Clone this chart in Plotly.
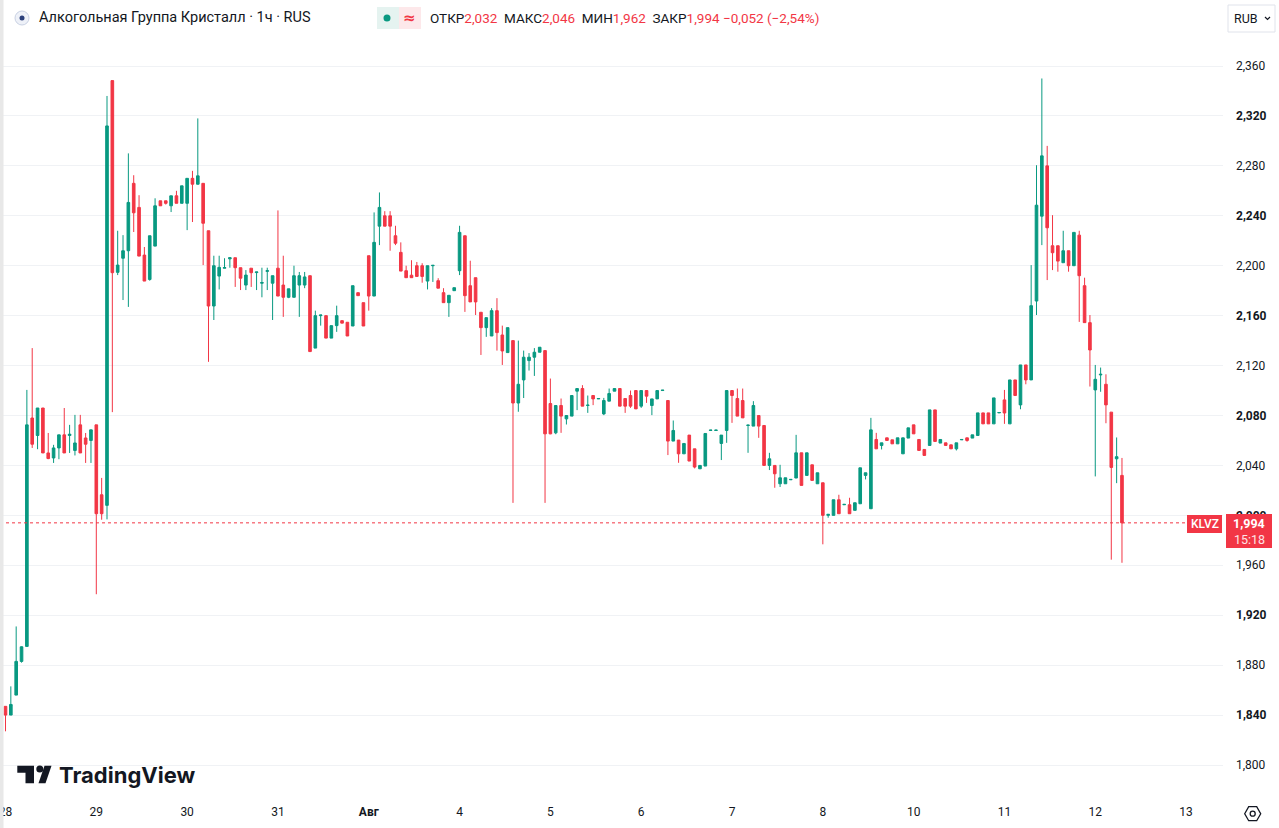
import plotly.graph_objects as go

# ---------------- data (hourly candles, KLVZ) ----------------
opens = [1847, 1840, 1856, 1883, 1895, 2078, 2064, 2086, 2050, 2046,
         2054, 2064.5, 2064, 2052, 2072.5, 2062, 2060, 2072.5, 2016.5, 2008,
         2348.3, 2194.7, 2206, 2212, 2266, 2246.7, 2208.5, 2189, 2215.7, 2252,
         2252, 2248, 2256, 2250, 2250, 2270, 2265.3, 2266, 2228, 2167.7,
         2191.7, 2198, 2205.5, 2206.4, 2198.4, 2184.5, 2198, 2194.5, 2186, 2195.5,
         2186, 2198, 2184.5, 2174.7, 2174.7, 2184.5, 2184.5, 2192, 2134, 2160,
         2160, 2142, 2152, 2156, 2154.7, 2151.7, 2178.4, 2170.4, 2208, 2175.7,
         2231.7, 2240, 2240, 2224, 2210.7, 2196, 2192.4, 2200, 2200, 2187.7,
         2200, 2188, 2178.4, 2170.4, 2180, 2196, 2224, 2184, 2190.4, 2162.7,
         2150.4, 2143.7, 2164, 2144.5, 2130.4, 2140, 2090, 2108.5, 2124, 2126.7,
         2130.7, 2132, 2089.6, 2066.1, 2088, 2077.3, 2079.5, 2099.5, 2101.6, 2088,
         2096, 2093.3, 2081.3, 2091.5, 2099.5, 2101.6, 2093.6, 2096, 2100, 2087.5,
         2100, 2088, 2093.3, 2100, 2092, 2059.5, 2060.3, 2049.3, 2064.3, 2053.3,
         2037.3, 2039.5, 2068, 2068, 2057.6, 2068, 2100, 2093.6, 2092, 2072,
         2071.5, 2080, 2072, 2040, 2040, 2025.3, 2025.3, 2028.5, 2029.9, 2050.1,
         2032, 2040.5, 2025.3, 2026.1, 2000, 2000, 2012.5, 2008.5, 2008.5, 2004,
         2009.3, 2032, 2005.3, 2060.8, 2056, 2062.1, 2060.5, 2057.3, 2049.3, 2061.9,
         2072.5, 2060.8, 2052.8, 2056, 2084.5, 2057.9, 2058.1, 2056.5, 2053.3, 2060.5,
         2062.1, 2061.9, 2064, 2082.1, 2082.1, 2073.3, 2082.1, 2092.5, 2073.3, 2108.5,
         2088.5, 2120.5, 2108.5, 2171.7, 2239.7, 2280, 2216, 2216, 2202.4, 2212,
         2200, 2224.5, 2184, 2154.4, 2100.5, 2112.5, 2105, 2082.7, 2045.3, 2032]

highs = [1847, 1863, 1911, 1895, 2100.5, 2134, 2086, 2086, 2066, 2056.5,
         2064.5, 2086, 2072.5, 2080.5, 2080.5, 2066, 2068.5, 2072.5, 2030, 2336,
         2348.3, 2228, 2224.5, 2290, 2272.5, 2256.5, 2215, 2224, 2254, 2252,
         2252, 2256, 2260, 2264, 2270, 2276, 2318, 2266, 2228, 2208,
         2208, 2206, 2206.4, 2206.4, 2198.4, 2196.5, 2198, 2195, 2198.4, 2198.4,
         2192, 2244.3, 2208, 2181.5, 2200, 2195, 2195, 2192, 2164, 2160.5,
         2160, 2152, 2168, 2156, 2154.7, 2184, 2178.4, 2170.4, 2208, 2242.7,
         2258.7, 2243.7, 2243.7, 2232, 2218.7, 2200, 2204.4, 2203, 2202, 2200,
         2200.3, 2190, 2182, 2176.3, 2182.4, 2232, 2224, 2204, 2190.4, 2162.7,
         2158.4, 2166, 2174, 2152, 2150.4, 2140, 2140, 2132, 2130, 2134,
         2134.7, 2132, 2109.6, 2088, 2093.6, 2080, 2096, 2101.6, 2104.3, 2096,
         2096, 2093.6, 2094.1, 2101.6, 2101.6, 2101.6, 2093.6, 2100, 2100, 2100,
         2100, 2093.3, 2100, 2100.3, 2092, 2076, 2060.3, 2057.6, 2064.3, 2053.3,
         2040, 2065.6, 2068.3, 2068.3, 2064.3, 2100, 2100, 2101.6, 2101.6, 2072.5,
         2091.5, 2080, 2072, 2050.1, 2040, 2040.5, 2030.1, 2028.8, 2064.5, 2050.1,
         2050.1, 2040.5, 2034.1, 2026.1, 2000.8, 2012.5, 2016.5, 2008.8, 2014.1, 2010.1,
         2038.1, 2034.1, 2078.1, 2066.1, 2058.1, 2062.1, 2060.5, 2062.1, 2062.1, 2070.1,
         2072.5, 2060.8, 2052.8, 2084.5, 2084.5, 2060.8, 2058.1, 2056.5, 2058.1, 2060.8,
         2062.1, 2064.5, 2082.1, 2082.1, 2082.1, 2094.1, 2082.4, 2100.5, 2108.5, 2108.5,
         2120.5, 2120.5, 2200.5, 2280.5, 2350, 2296, 2240.5, 2216, 2228, 2212,
         2226.7, 2228, 2190.4, 2160.5, 2120.5, 2118.4, 2113, 2082.7, 2062.4, 2046]

lows = [1827, 1840, 1856, 1882, 1895, 2054, 2053, 2050, 2045, 2042,
        2045, 2050, 2050, 2048, 2050, 2042, 2042, 1936.8, 1996.5, 1996.8,
        2082.7, 2192.5, 2172.5, 2167, 2227, 2207.7, 2187.7, 2188, 2215.7, 2248,
        2249, 2243, 2250, 2250, 2228.5, 2235, 2265, 2200.5, 2123, 2156.5,
        2181, 2198, 2198.4, 2183, 2180.5, 2180.5, 2183, 2180.5, 2174.7, 2180.5,
        2156.5, 2175.7, 2159, 2174, 2174.7, 2159, 2182, 2131.2, 2134, 2152,
        2142, 2142, 2147, 2154, 2143.7, 2151.7, 2176, 2151.7, 2164, 2175.7,
        2216.5, 2231.7, 2212, 2216.5, 2195.7, 2190.4, 2190.4, 2191.4, 2186.4, 2181,
        2187, 2182, 2170.4, 2159, 2180, 2192.5, 2163, 2171, 2160.5, 2128.5,
        2143, 2143.7, 2132, 2120.5, 2130.4, 2010, 2083, 2094, 2116, 2111.7,
        2130.7, 2010, 2065, 2065, 2066.1, 2072.8, 2079.5, 2084.3, 2087.5, 2082.1,
        2088.3, 2093.3, 2080.3, 2091.5, 2099.5, 2087.5, 2082.1, 2086.1, 2085.3, 2086.1,
        2090.1, 2080.3, 2093.3, 2100, 2048.3, 2059.5, 2042.1, 2049.3, 2043.5, 2037.6,
        2037.3, 2039.5, 2068, 2068, 2044.3, 2058.1, 2074.1, 2079.5, 2078.1, 2050.1,
        2071.5, 2062.1, 2040, 2036.3, 2022.1, 2022.7, 2025.3, 2028.5, 2029.9, 2024,
        2032, 2028, 2025.3, 1976.8, 1998.1, 2000, 2001.3, 2008.5, 2001.3, 2004,
        2009.3, 2028.8, 2005.3, 2053.3, 2052.8, 2060, 2057.3, 2057.3, 2049.3, 2061.9,
        2065.3, 2052, 2048, 2056, 2059.2, 2057.9, 2056, 2053.3, 2052, 2060.5,
        2059, 2061.9, 2064, 2073.3, 2073.3, 2073.3, 2082.1, 2073.3, 2073.3, 2096,
        2085, 2105, 2108.5, 2160.5, 2216.5, 2188.5, 2196.5, 2195.2, 2202.4, 2195.2,
        2200, 2155, 2154.4, 2103.2, 2031.2, 2099, 2073.8, 1964.5, 2025.8, 1962]

closes = [1840, 1848.5, 1883, 1894.7, 2072.5, 2057, 2086, 2050, 2045.5, 2054,
          2064.5, 2050, 2065, 2058, 2050, 2057, 2068.5, 2001.3, 2001.3, 2312,
          2194.4, 2200.5, 2212, 2250.7, 2242.4, 2207.7, 2187.7, 2224, 2248, 2248,
          2250, 2256, 2250, 2264, 2270, 2265.3, 2272, 2234, 2167.7, 2200,
          2198.7, 2198.5, 2206.4, 2198.4, 2190, 2192.5, 2194.4, 2195, 2186.5, 2196,
          2192, 2175.7, 2174.7, 2181.5, 2192, 2192, 2191, 2131.2, 2160, 2160.5,
          2142, 2152, 2160, 2154, 2143.7, 2184, 2176, 2151.7, 2175.7, 2218.7,
          2246.7, 2231.7, 2231.7, 2218, 2195.7, 2190.4, 2190.4, 2191.4, 2191.4, 2200,
          2200.3, 2182, 2170.4, 2176.3, 2182.4, 2226.7, 2176, 2171, 2171, 2150.4,
          2158.4, 2164, 2146.4, 2131.7, 2150.4, 2090, 2105, 2126.7, 2126.7, 2130.7,
          2134.7, 2065.3, 2065.3, 2088, 2079.5, 2080, 2096, 2101.6, 2087.5, 2088.3,
          2093.3, 2093.6, 2092, 2097.6, 2101.6, 2087.5, 2087.5, 2087.5, 2085.3, 2100,
          2095.5, 2093.3, 2100, 2100.3, 2059.5, 2068, 2049.3, 2057.6, 2043.5, 2038.7,
          2040, 2065.6, 2068.3, 2068.3, 2064.3, 2100, 2096, 2079.5, 2078.1, 2072.3,
          2088, 2071.5, 2040, 2045.3, 2033.3, 2030.1, 2030.1, 2028.8, 2050.1, 2024,
          2050.1, 2028, 2034.1, 2000, 2000.8, 2012.5, 2001.3, 2008.8, 2001.3, 2010.1,
          2038.1, 2034.1, 2068.5, 2053.3, 2058.1, 2060, 2057.3, 2062.1, 2062.1, 2070.1,
          2065.3, 2052, 2048, 2084.5, 2059.2, 2060.8, 2056, 2053.3, 2058.1, 2060.8,
          2060, 2064.5, 2082.1, 2073.3, 2073.3, 2094.1, 2082.4, 2082, 2108.5, 2096,
          2120.5, 2108.5, 2168, 2248.5, 2288, 2230.4, 2210.4, 2203.7, 2212, 2200,
          2226.7, 2192, 2154.4, 2132.5, 2109, 2113, 2088.5, 2038.4, 2047, 1994]

day_start_idx = [0, 17, 34, 51, 68, 85, 102, 119, 136, 153, 170, 187, 204, 221]
day_labels = ["28", "29", "30", "31", "<b>Авг</b>", "4", "5", "6", "7", "8", "10", "11", "12", "13"]

price_ticks = [1800, 1840, 1880, 1920, 1960, 2000, 2040, 2080, 2120, 2160, 2200, 2240, 2280, 2320, 2360]
price_labels = ["1,800", "<b>1,840</b>", "1,880", "<b>1,920</b>", "1,960", "<b>2,000</b>", "2,040",
                "<b>2,080</b>", "2,120", "<b>2,160</b>", "2,200", "<b>2,240</b>", "2,280", "<b>2,320</b>", "2,360"]

last_price = 1994
ticker = "KLVZ"
title = "Алкогольная Группа Кристалл · 1ч · RUS"
ohlc_text = ("ОТКР<span style='color:#F23645'>2,032</span>  МАКС<span style='color:#F23645'>2,046</span>  "
             "МИН<span style='color:#F23645'>1,962</span>  ЗАКР<span style='color:#F23645'>1,994</span> "
             "<span style='color:#F23645'>−0,052 (−2,54%)</span>")

GREEN = "#089981"
RED = "#F23645"
TXT = "#131722"

# ---------------- layout geometry (pixels) ----------------
W, H = 1279, 828
PR, PB = 1223, 797  # plot area right / bottom


def px(x):
    return x / PR


def py(y):
    return (PB - y) / PB


fig = go.Figure()
fig.add_trace(go.Candlestick(
    x=list(range(len(opens))), open=opens, high=highs, low=lows, close=closes,
    increasing=dict(line=dict(color=GREEN, width=1), fillcolor=GREEN),
    decreasing=dict(line=dict(color=RED, width=1), fillcolor=RED),
    whiskerwidth=0, hoverinfo="skip", showlegend=False,
))

shapes = []
annotations = []

# last price dotted line
shapes.append(dict(type="line", xref="paper", yref="y", x0=0, x1=1, y0=last_price, y1=last_price,
                   line=dict(color=RED, width=1, dash="dot"), layer="above"))
# left grey strip
shapes.append(dict(type="rect", xref="paper", yref="paper", x0=px(0), x1=px(3.5), y0=py(H), y1=py(0),
                   fillcolor="#e8e8e8", line=dict(width=0), layer="above"))
# KLVZ label
shapes.append(dict(type="rect", xref="paper", yref="paper", x0=px(1187), x1=px(1222), y0=py(533), y1=py(515),
                   fillcolor=RED, line=dict(width=0), layer="above"))
annotations.append(dict(text=ticker, xref="paper", yref="paper", x=px(1204.5), y=py(524), showarrow=False,
                        font=dict(color="white", size=12, family="Roboto", weight=500),
                        xanchor="center", yanchor="middle"))
# price box on scale
shapes.append(dict(type="rect", xref="paper", yref="paper", x0=px(1226), x1=px(1272), y0=py(548), y1=py(514),
                   fillcolor=RED, line=dict(width=0), layer="above"))
annotations.append(dict(text="<b>1,994</b>", xref="paper", yref="paper", x=px(1249), y=py(523), showarrow=False,
                        font=dict(color="white", size=12.5, family="Roboto"), xanchor="center", yanchor="middle"))
annotations.append(dict(text="15:18", xref="paper", yref="paper", x=px(1249), y=py(539), showarrow=False,
                        font=dict(color="#fde3e5", size=12.5, family="Roboto"), xanchor="center", yanchor="middle"))

# header
shapes.append(dict(type="circle", xref="paper", yref="paper", x0=px(15), x1=px(29), y0=py(25), y1=py(11),
                   fillcolor="#eef1f8", line=dict(color="#c9d1e3", width=1), layer="above"))
shapes.append(dict(type="circle", xref="paper", yref="paper", x0=px(19.5), x1=px(24.5), y0=py(20.5), y1=py(15.5),
                   fillcolor="#2a3f7a", line=dict(width=0), layer="above"))
annotations.append(dict(text=title, xref="paper", yref="paper", x=px(37), y=py(18), showarrow=False,
                        font=dict(color=TXT, size=14.5, family="Roboto"), xanchor="left", yanchor="middle"))
shapes.append(dict(type="rect", xref="paper", yref="paper", x0=px(377), x1=px(399), y0=py(29), y1=py(7),
                   fillcolor="#e5f3f0", line=dict(width=0), layer="above"))
shapes.append(dict(type="rect", xref="paper", yref="paper", x0=px(399), x1=px(421), y0=py(29), y1=py(7),
                   fillcolor="#fde8ea", line=dict(width=0), layer="above"))
shapes.append(dict(type="circle", xref="paper", yref="paper", x0=px(383.5), x1=px(390.5), y0=py(21.5), y1=py(14.5),
                   fillcolor=GREEN, line=dict(width=0), layer="above"))
annotations.append(dict(text="<b>≈</b>", xref="paper", yref="paper", x=px(409.5), y=py(18), showarrow=False,
                        font=dict(color=RED, size=15, family="DejaVu Sans"), xanchor="center", yanchor="middle"))
annotations.append(dict(text=ohlc_text, xref="paper", yref="paper", x=px(428), y=py(18), showarrow=False,
                        font=dict(color=TXT, size=13.5, family="Roboto"), xanchor="left", yanchor="middle"))
# RUB box
shapes.append(dict(type="rect", xref="paper", yref="paper", x0=px(1228), x1=px(1275), y0=py(32), y1=py(5),
                   fillcolor="white", line=dict(color="#e0e3eb", width=1), layer="above"))
annotations.append(dict(text="RUB", xref="paper", yref="paper", x=px(1232), y=py(18.5), showarrow=False,
                        font=dict(color=TXT, size=12.5, family="Roboto"), xanchor="left", yanchor="middle"))
shapes.append(dict(type="path", xref="paper", yref="paper",
                   path=f"M {px(1265)} {py(17)} L {px(1267.5)} {py(19.5)} L {px(1270)} {py(17)}",
                   line=dict(color=TXT, width=1.2), layer="above"))

# TradingView logo
shapes.append(dict(type="path", xref="paper", yref="paper",
                   path=(f"M {px(17.3)} {py(765.7)} L {px(34)} {py(765.7)} L {px(34)} {py(783.3)} "
                         f"L {px(25.5)} {py(783.3)} L {px(25.5)} {py(772.7)} L {px(17.3)} {py(772.7)} Z"),
                   fillcolor=TXT, line=dict(width=0), layer="above"))
shapes.append(dict(type="circle", xref="paper", yref="paper", x0=px(36.3), x1=px(43.3), y0=py(772.5), y1=py(765.5),
                   fillcolor=TXT, line=dict(width=0), layer="above"))
shapes.append(dict(type="path", xref="paper", yref="paper",
                   path=(f"M {px(38.5)} {py(783.3)} L {px(45.5)} {py(783.3)} L {px(51.5)} {py(765.7)} "
                         f"L {px(44.5)} {py(765.7)} Z"),
                   fillcolor=TXT, line=dict(width=0), layer="above"))
annotations.append(dict(text="<b>TradingView</b>", xref="paper", yref="paper", x=px(57), y=py(775), showarrow=False,
                        font=dict(color=TXT, size=22, family="Inter"), xanchor="left", yanchor="middle"))

# settings icon
cx, cy = 1252.7, 813.7
hexpts = [(cx - 8, cy), (cx - 4, cy - 7), (cx + 4, cy - 7), (cx + 8, cy), (cx + 4, cy + 7), (cx - 4, cy + 7)]
hexpath = "M " + " L ".join(f"{px(a)} {py(b)}" for a, b in hexpts) + " Z"
shapes.append(dict(type="path", xref="paper", yref="paper", path=hexpath,
                   line=dict(color=TXT, width=1.3), layer="above"))
shapes.append(dict(type="circle", xref="paper", yref="paper", x0=px(cx - 2.5), x1=px(cx + 2.5),
                   y0=py(cy + 2.5), y1=py(cy - 2.5), line=dict(color=TXT, width=1.3), layer="above"))

# axis ranges (pixel-calibrated)
x0_px, step = 5.5, 5.342
xr = [-x0_px / step, -x0_px / step + PR / step]
p_per_px = 560 / 699
yr = [1800 - (PB - 765) * p_per_px, 1800 + 765 * p_per_px]

fig.update_layout(
    width=W, height=H,
    margin=dict(l=0, r=W - PR, t=0, b=H - PB),
    paper_bgcolor="white", plot_bgcolor="white",
    shapes=shapes, annotations=annotations,
    font=dict(family="Roboto", color=TXT, size=12),
    xaxis=dict(range=xr, rangeslider=dict(visible=False), showgrid=False, zeroline=False,
               tickmode="array", tickvals=day_start_idx, ticktext=day_labels,
               tickfont=dict(size=12, color=TXT), ticks="", ticklabelstandoff=6, showline=False,
               ticklabeloverflow="allow"),
    yaxis=dict(range=yr, side="right", showgrid=True, gridcolor="#f0f2f5", gridwidth=1, zeroline=False,
               tickmode="array", tickvals=price_ticks, ticktext=price_labels,
               tickfont=dict(size=12, color=TXT), ticks="", ticklabelstandoff=12, showline=False),
    hovermode=False,
)

fig.write_html("out.html", config={"displayModeBar": False},
               post_script="document.body.style.margin='0';document.body.style.overflow='hidden';")
